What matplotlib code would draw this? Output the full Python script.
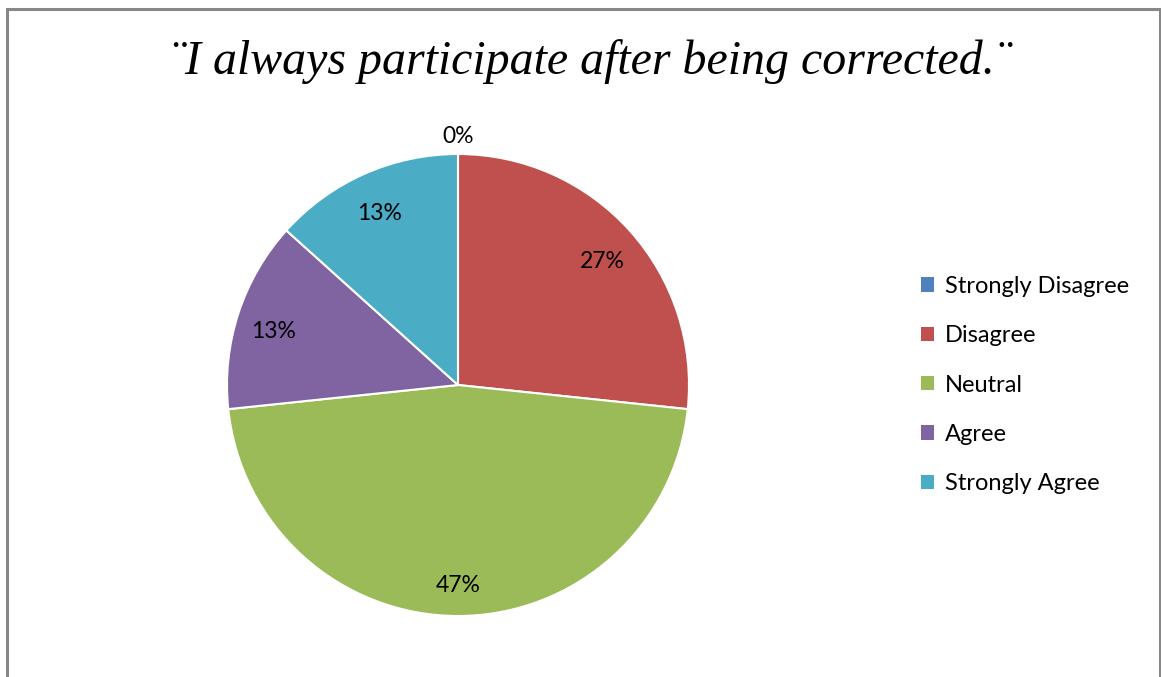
import matplotlib
matplotlib.use("Agg")
import matplotlib.pyplot as plt
from matplotlib.patches import Patch, Rectangle

categories = ["Strongly Disagree", "Disagree", "Neutral", "Agree", "Strongly Agree"]
responses = [0, 4, 7, 2, 2]
colors = ["#4F81BD", "#C0504D", "#9BBB59", "#8064A2", "#4BACC6"]
title = "\u00a8I always participate after being corrected.\u00a8"

W, H = 1161, 677
fig = plt.figure(figsize=(W / 100, H / 100), dpi=100)

# grey frame round the chart area (bottom edge runs off the image)
fig.patches.append(Rectangle((6.5 / W, -0.05), (1160 - 6.5) / W, 1.05 - 8.5 / H,
                             transform=fig.transFigure, fill=False,
                             edgecolor="#888888", linewidth=2.2))

fig.text(590 / W, 1 - 62 / H, title, ha="center", va="center",
         fontfamily="Liberation Serif", fontstyle="italic", fontsize=34.5)

cx, cy, r = 458, 385, 231
ax = fig.add_axes([(cx - r) / W, (H - cy - r) / H, 2 * r / W, 2 * r / H])
wedges, texts, autotexts = ax.pie(
    responses, colors=colors, startangle=90, counterclock=False, radius=1,
    autopct=lambda p: "%d%%" % round(p), pctdistance=0.84,
    wedgeprops=dict(edgecolor="white", linewidth=1.5),
    textprops=dict(fontfamily="Lato", fontsize=16.5, color="black"))
ax.set_xlim(-1, 1)
ax.set_ylim(-1, 1)

# empty slice: label pushed outside; others sit a touch lower
for val, t in zip(responses, autotexts):
    x, y = t.get_position()
    if val == 0:
        t.set_position((0, 1.075))
    else:
        t.set_position((x, y - 0.026))

handles = [Patch(facecolor=c, edgecolor="none") for c in colors]
fig.legend(handles, categories, loc="center left",
           bbox_to_anchor=(900 / W, 1 - 385 / H), frameon=False,
           prop=dict(family="Lato", size=17), handlelength=0.55,
           handleheight=0.55, handletextpad=0.45, labelspacing=1.2)

fig.savefig("out.png", dpi=100)
